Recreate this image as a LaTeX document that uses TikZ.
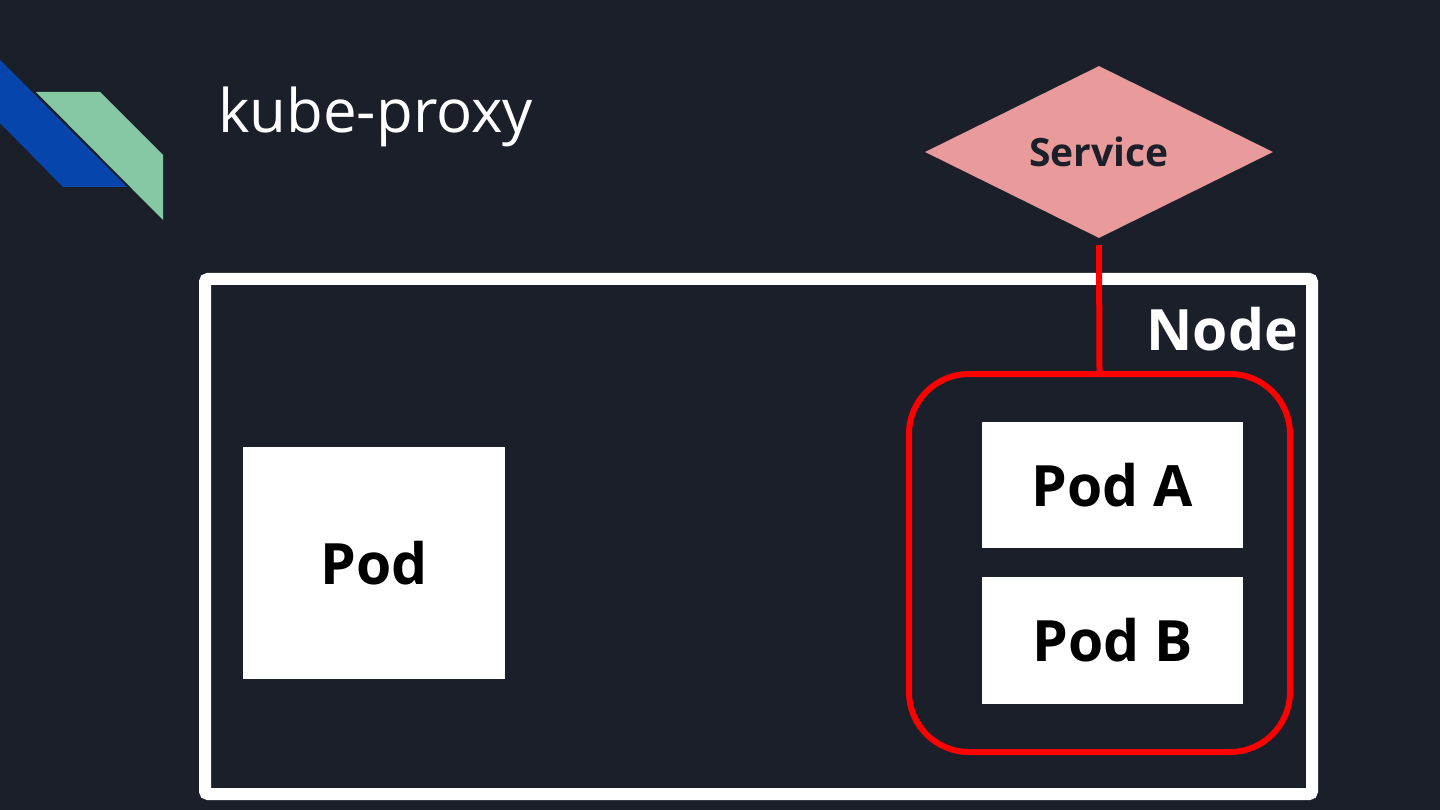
\documentclass[tikz,border=0pt]{standalone}
\usepackage{fontspec}
\setmainfont{Open Sans}
\usetikzlibrary{shapes.geometric}
\definecolor{bgc}{HTML}{1B1F2A}
\definecolor{logoblue}{HTML}{0646AC}
\definecolor{logogreen}{HTML}{86C8A4}
\definecolor{svcpink}{HTML}{E99A9A}
\definecolor{grpred}{HTML}{FF0000}
\tikzset{
  podbox/.style={draw=none, fill=white, inner sep=0pt, text=black,
    font=\fontsize{57}{60}\selectfont\bfseries},
  lbl/.style={inner sep=0pt, text=white},
}
\begin{document}
\begin{tikzpicture}[x=1pt,y=-1pt]
\useasboundingbox (0,0) rectangle (1440,810);
\fill[bgc] (0,0) rectangle (1440,810);
% logo
\fill[logoblue] (0,60) -- (127,187) -- (63,187) -- (0,123) -- cycle;
\fill[logogreen] (36,92) -- (100,92) -- (163,155) -- (163,220) -- cycle;
% title
\node[lbl, anchor=base west, font=\fontsize{60}{62}\selectfont] (title) at (218,133) {kube-proxy};
% node box
\node[draw=white, line width=12pt, rounded corners=3pt, minimum width=1107pt, minimum height=515pt, inner sep=0pt] (nodebox) at (758.5,536.5) {};
\node[lbl, anchor=base east, font=\fontsize{57}{60}\selectfont\bfseries] (nodelbl) at (1298,350) {Node};
% service
\node[diamond, fill=svcpink, shape aspect=2, minimum width=348pt, minimum height=172pt, inner sep=0pt, text=bgc, font=\fontsize{39}{42}\selectfont\bfseries] (svc) at (1099,152) {Service};
% group
\node[draw=grpred, line width=6pt, rounded corners=60pt, minimum width=381pt, minimum height=378pt, inner sep=0pt] (grp) at (1099.5,563) {};
\draw[grpred, line width=6pt] ([yshift=-7pt]svc.south) -- (grp.north);
% pods
\node[podbox, minimum width=262pt, minimum height=232pt] (pod) at (374,563) {Pod};
\node[podbox, minimum width=261pt, minimum height=126pt] (poda) at (1112.5,485) {Pod A};
\node[podbox, minimum width=261pt, minimum height=127pt] (podb) at (1112.5,640.5) {Pod B};
\end{tikzpicture}
\end{document}
